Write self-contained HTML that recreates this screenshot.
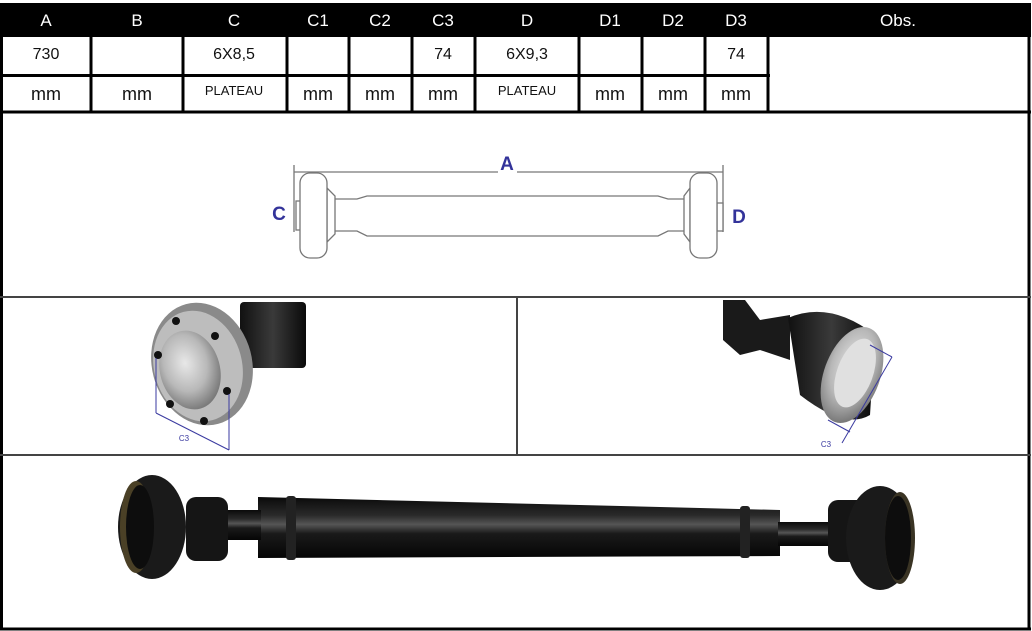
<!DOCTYPE html>
<html><head><meta charset="utf-8"><style>
html,body{margin:0;padding:0;background:#fff;}
svg{display:block;}
text{font-family:"Liberation Sans",sans-serif;}
</style></head><body>
<svg width="1032" height="631" viewBox="0 0 1032 631" xmlns="http://www.w3.org/2000/svg">
<defs>
<linearGradient id="tube" x1="0" y1="0" x2="0" y2="1">
<stop offset="0" stop-color="#0a0a0a"/><stop offset="0.3" stop-color="#2a2a2a"/><stop offset="0.45" stop-color="#555"/><stop offset="0.6" stop-color="#1a1a1a"/><stop offset="1" stop-color="#050505"/>
</linearGradient>
<linearGradient id="blk" x1="0" y1="0" x2="1" y2="0">
<stop offset="0" stop-color="#111"/><stop offset="0.5" stop-color="#3a3a3a"/><stop offset="1" stop-color="#0a0a0a"/>
</linearGradient>
<radialGradient id="silv" cx="0.45" cy="0.4" r="0.6">
<stop offset="0" stop-color="#e8e8e8"/><stop offset="0.6" stop-color="#b8b8b8"/><stop offset="1" stop-color="#7a7a7a"/>
</radialGradient>
</defs>
<rect x="0" y="0" width="1032" height="631" fill="#fff"/>
<!-- header -->
<rect x="0" y="3" width="1031" height="34" fill="#000"/>
<g fill="#fff" font-size="17" text-anchor="middle">
<text x="46" y="26">A</text><text x="137" y="26">B</text><text x="234" y="26">C</text>
<text x="318" y="26">C1</text><text x="380" y="26">C2</text><text x="443" y="26">C3</text>
<text x="527" y="26">D</text><text x="610" y="26">D1</text><text x="673" y="26">D2</text>
<text x="736" y="26">D3</text><text x="898" y="26">Obs.</text>
</g>
<!-- table grid -->
<g stroke="#000" stroke-width="3" fill="none">
<line x1="1.5" y1="36" x2="1.5" y2="630"/>
<line x1="1029" y1="36" x2="1029" y2="630"/>
<line x1="0" y1="75.5" x2="770" y2="75.5"/>
<line x1="0" y1="112" x2="1031" y2="112"/>
<line x1="91" y1="36" x2="91" y2="112"/>
<line x1="183" y1="36" x2="183" y2="112"/>
<line x1="287" y1="36" x2="287" y2="112"/>
<line x1="349" y1="36" x2="349" y2="112"/>
<line x1="412" y1="36" x2="412" y2="112"/>
<line x1="475" y1="36" x2="475" y2="112"/>
<line x1="579" y1="36" x2="579" y2="112"/>
<line x1="642" y1="36" x2="642" y2="112"/>
<line x1="705" y1="36" x2="705" y2="112"/>
<line x1="768" y1="36" x2="768" y2="112"/>
</g>
<g stroke="#444" stroke-width="2">
<line x1="0" y1="297" x2="1031" y2="297"/>
<line x1="0" y1="455" x2="1031" y2="455"/>
<line x1="517" y1="297" x2="517" y2="455"/>
</g>
<line x1="0" y1="629" x2="1031" y2="629" stroke="#000" stroke-width="3"/>
<g fill="#111" font-size="16" text-anchor="middle">
<text x="46" y="59">730</text><text x="234" y="59">6X8,5</text><text x="443" y="59">74</text>
<text x="527" y="59">6X9,3</text><text x="736" y="59">74</text>
<text x="46" y="100" font-size="18">mm</text><text x="137" y="100" font-size="18">mm</text>
<text x="318" y="100" font-size="18">mm</text><text x="380" y="100" font-size="18">mm</text>
<text x="443" y="100" font-size="18">mm</text><text x="610" y="100" font-size="18">mm</text>
<text x="673" y="100" font-size="18">mm</text><text x="736" y="100" font-size="18">mm</text>
<text x="234" y="95" font-size="13">PLATEAU</text><text x="527" y="95" font-size="13">PLATEAU</text>
</g>
<!-- line drawing -->
<g stroke="#777" stroke-width="1.3" fill="#fff">
<line x1="294" y1="165" x2="294" y2="232"/>
<line x1="723" y1="165" x2="723" y2="232"/>
<line x1="294" y1="172" x2="498" y2="172"/>
<line x1="517" y1="172" x2="723" y2="172"/>
<path d="M333 199 L357 199 L367 196 L658 196 L668 199 L686 199 L686 231 L668 231 L658 236 L367 236 L357 231 L333 231 Z"/>
<rect x="296" y="201" width="6" height="29"/>
<rect x="717" y="203" width="6" height="28"/>
<path d="M327 188 L335 196 L335 234 L327 242 Z"/>
<path d="M690 188 L684 196 L684 234 L690 242 Z"/>
<rect x="300" y="173" width="27" height="85" rx="10"/>
<rect x="690" y="173" width="27" height="85" rx="10"/>
</g>
<g fill="#33339a" font-weight="bold" font-size="19" text-anchor="middle">
<text x="507" y="170">A</text><text x="279" y="220">C</text><text x="739" y="223">D</text>
</g>
<!-- left photo -->
<rect x="240" y="302" width="66" height="66" fill="url(#blk)" rx="4"/>
<ellipse cx="202" cy="364" rx="50" ry="62" fill="#8a8a8a" transform="rotate(-15 202 364)"/>
<ellipse cx="198" cy="366" rx="44" ry="56" fill="#bdbdbd" transform="rotate(-15 198 366)"/>
<ellipse cx="190" cy="370" rx="30" ry="40" fill="url(#silv)" transform="rotate(-15 190 370)"/>
<g fill="#111">
<circle cx="176" cy="321" r="4"/><circle cx="215" cy="336" r="4"/><circle cx="158" cy="355" r="4"/>
<circle cx="227" cy="391" r="4"/><circle cx="170" cy="404" r="4"/><circle cx="204" cy="421" r="4"/>
</g>
<g stroke="#3a3aa0" stroke-width="1" fill="none">
<line x1="156" y1="358" x2="156" y2="413"/><line x1="229" y1="394" x2="229" y2="450"/>
<line x1="156" y1="413" x2="229" y2="450"/>
</g>
<text x="184" y="441" font-size="8" fill="#3a3aa0" text-anchor="middle">C3</text>
<!-- right photo -->
<path d="M723 300 L745 300 L760 320 L790 315 L790 360 L760 350 L740 355 L723 340 Z" fill="#1a1a1a"/>
<path d="M788 318 Q830 300 875 335 L870 415 Q845 430 800 395 Z" fill="url(#blk)"/>
<ellipse cx="852" cy="375" rx="28" ry="50" fill="url(#silv)" transform="rotate(20 852 375)"/>
<ellipse cx="855" cy="373" rx="18" ry="36" fill="#e0e0e0" transform="rotate(20 855 373)"/>
<g stroke="#3a3aa0" stroke-width="1" fill="none">
<line x1="870" y1="345" x2="892" y2="357"/><line x1="828" y1="420" x2="850" y2="432"/>
<line x1="892" y1="357" x2="842" y2="443"/>
</g>
<text x="826" y="447" font-size="8" fill="#3a3aa0" text-anchor="middle">C3</text>
<!-- bottom shaft -->
<path d="M258 497 L780 510 L780 556 L258 558 Z" fill="url(#tube)"/>
<rect x="225" y="510" width="36" height="30" fill="url(#tube)"/>
<rect x="778" y="522" width="55" height="24" fill="url(#tube)"/>
<rect x="286" y="496" width="10" height="64" fill="#222" rx="3"/>
<rect x="740" y="506" width="10" height="52" fill="#222" rx="3"/>
<rect x="186" y="497" width="42" height="64" fill="#151515" rx="10"/>
<ellipse cx="152" cy="527" rx="34" ry="52" fill="#1a1a1a"/>
<ellipse cx="136" cy="527" rx="16" ry="46" fill="#4a4026"/>
<ellipse cx="140" cy="527" rx="14" ry="42" fill="#0d0d0d"/>
<rect x="828" y="500" width="40" height="62" fill="#151515" rx="10"/>
<ellipse cx="880" cy="538" rx="34" ry="52" fill="#1a1a1a"/>
<ellipse cx="900" cy="538" rx="15" ry="46" fill="#3a3424"/>
<ellipse cx="898" cy="538" rx="13" ry="42" fill="#0d0d0d"/>
</svg>
</body></html>
